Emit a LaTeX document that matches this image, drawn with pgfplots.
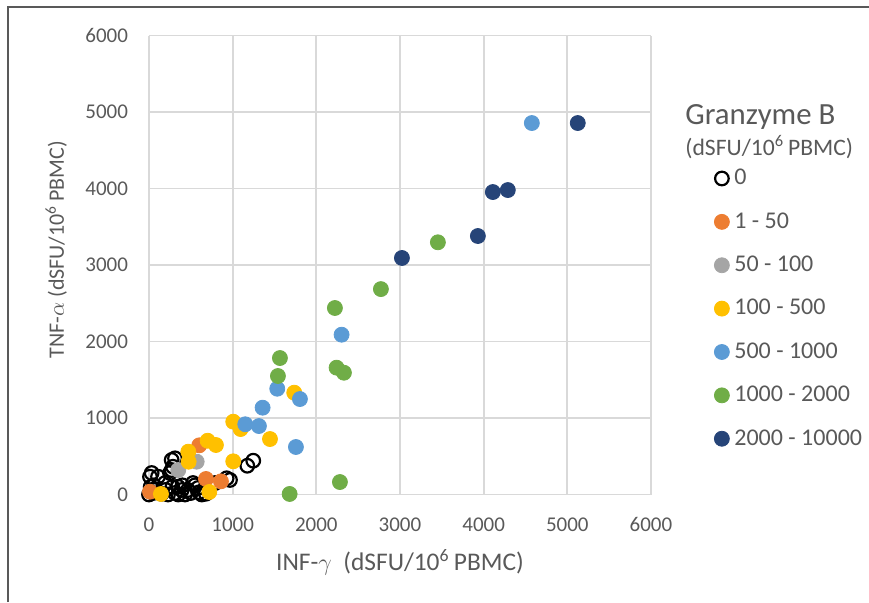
\documentclass[border=0pt]{standalone}
\usepackage{pgfplots}
\pgfplotsset{compat=1.18}
\usepackage{fontspec}
\setmainfont{Carlito}
\definecolor{txt}{HTML}{595959}
\definecolor{gridc}{HTML}{D9D9D9}
\definecolor{framec}{HTML}{595959}
\definecolor{cOrange}{HTML}{ED7D31}
\definecolor{cGray}{HTML}{A5A5A5}
\definecolor{cYellow}{HTML}{FFC000}
\definecolor{cBlue}{HTML}{5B9BD5}
\definecolor{cGreen}{HTML}{70AD47}
\definecolor{cNavy}{HTML}{264478}
\begin{document}
\begin{tikzpicture}
\path[use as bounding box] (-74.5pt,-53.75pt) rectangle (360pt,247.25pt);
\draw[color=framec, line width=1.2pt] (-70.5pt,-53.75pt) -- (-70.5pt,243.75pt) -- (360pt,243.75pt);
\begin{axis}[
    scale only axis,
    width=251pt, height=229.5pt,
    xmin=0, xmax=6000, ymin=0, ymax=6000,
    xtick={0,1000,...,6000}, ytick={0,1000,...,6000},
    grid=major,
    major grid style={color=gridc, line width=0.9pt},
    axis line style={draw=none},
    major tick length=0pt,
    clip=false,
    tick label style={font=\fontsize{10.5}{12}\selectfont, color=txt},
    /pgf/number format/assume math mode=true,
    /pgf/number format/set thousands separator={},
    yticklabel style={xshift=-7pt},
    xticklabel style={yshift=-8pt},
    xlabel={INF-$\gamma$\ \ (dSFU/10\textsuperscript{6}\,PBMC)},
    ylabel={TNF-$\alpha$ (dSFU/10\textsuperscript{6}\,PBMC)},
    xlabel style={font=\fontsize{12.7}{14}\selectfont, color=txt, at={(axis description cs:0.5,-0.147)}, anchor=center},
    ylabel style={font=\fontsize{11}{13}\selectfont, color=txt, at={(axis description cs:-0.185,0.533)}, anchor=center},
    legend cell align=left,
    legend image code/.code={\draw[#1] plot coordinates {(0pt,0pt)};},
    legend style={at={(axis description cs:1.1255,0.405)}, anchor=west,
        draw=none, fill=none, inner sep=0pt, row sep=7.4pt,
        font=\fontsize{12}{13}\selectfont, text=txt,
        nodes={inner sep=2.5pt}},
]
% Granzyme B = 0
\addplot[only marks, mark=o, mark size=3.4pt, color=black, mark options={line width=1.1pt}] coordinates {
(0,0) (12,233) (32,281) (72,59) (108,233) (20,100) (60,120) (50,20)
(150,10) (191,150) (200,60) (227,0) (251,281) (271,320) (271,451)
(287,363) (311,473) (311,20) (280,100) (347,102) (350,0) (391,59)
(400,120) (430,0) (466,59) (500,20) (526,150) (550,120) (585,85)
(600,30) (630,0) (680,10) (790,150) (928,212) (968,190) (1175,376) (1246,442)
};
% 1 - 50
\addplot[only marks, mark=*, mark size=3.75pt, color=cOrange] coordinates {
(12,37) (601,643) (681,203) (860,172)
};
% 50 - 100
\addplot[only marks, mark=*, mark size=3.75pt, color=cGray] coordinates {
(350,320) (570,429)
};
% 100 - 500
\addplot[only marks, mark=*, mark size=3.75pt, color=cYellow] coordinates {
(143,7) (470,560) (474,429) (701,703) (721,33) (800,647) (1007,434)
(1007,952) (1095,856) (1446,725) (1736,1331)
};
% 500 - 1000
\addplot[only marks, mark=*, mark size=3.75pt, color=cBlue] coordinates {
(1151,918) (1314,895) (1358,1135) (1533,1383) (1756,621) (1804,1248)
(2302,2089) (4576,4856)
};
% 1000 - 2000
\addplot[only marks, mark=*, mark size=3.75pt, color=cGreen] coordinates {
(1541,1549) (1565,1784) (1681,7) (2222,2438) (2242,1658) (2282,163)
(2330,1592) (2772,2685) (3453,3297)
};
% 2000 - 10000
\addplot[only marks, mark=*, mark size=3.75pt, color=cNavy] coordinates {
(3023,3092) (3931,3379) (4110,3954) (4289,3980) (5125,4856)
};
\legend{0, 1 - 50, 50 - 100, 100 - 500, 500 - 1000, 1000 - 2000, 2000 - 10000}
\end{axis}
\node[anchor=base west, inner sep=0pt, font=\fontsize{15.4}{17}\selectfont, color=txt] at (268pt,185pt) {Granzyme B};
\node[anchor=base west, inner sep=0pt, font=\fontsize{11.8}{13}\selectfont, color=txt] at (268pt,169.5pt) {(dSFU/10\textsuperscript{6}\,PBMC)};
\end{tikzpicture}
\end{document}
